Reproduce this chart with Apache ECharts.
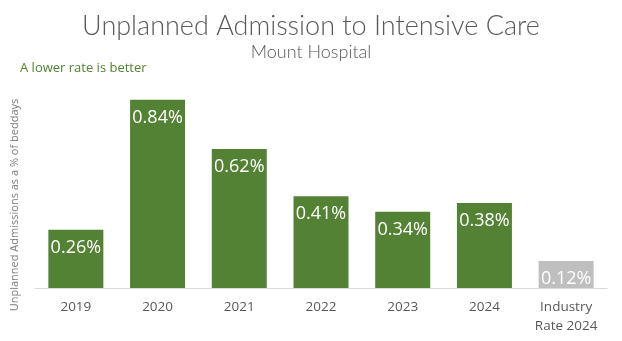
<!DOCTYPE html>
<html><head><meta charset="utf-8">
<script src="https://cdn.jsdelivr.net/npm/echarts@6/dist/echarts.min.js"></script>
<style>html,body{margin:0;padding:0;background:#fff}#c{width:622px;height:341px}</style>
</head><body><div id="c"></div>
<script>
const categories = ['2019','2020','2021','2022','2023','2024','Industry\nRate 2024'];
const values = [0.26, 0.84, 0.62, 0.41, 0.34, 0.38, 0.12];
const colors = ['#548235','#548235','#548235','#548235','#548235','#548235','#bfbfbf'];
const yAxisTitle = 'Unplanned Admissions as a % of beddays';

const chart = echarts.init(document.getElementById('c'));
chart.setOption({
  animation: false,
  backgroundColor: '#fff',
  title: [
    {text: 'Unplanned Admission to Intensive Care', left: 'center', top: 8,
     textStyle: {fontFamily: 'Lato', fontWeight: 300, fontSize: 27, color: '#595959'}},
    {text: 'Mount Hospital', left: 'center', top: 38,
     textStyle: {fontFamily: 'Lato', fontWeight: 300, fontSize: 18, color: '#595959'}},
    {text: 'A lower rate is better', left: 15, top: 57,
     textStyle: {fontFamily: 'Open Sans', fontWeight: 'normal', fontSize: 13, color: '#548235'}}
  ],
  graphic: [{
    type: 'text', x: 9, y: 205, rotation: Math.PI / 2,
    style: {text: yAxisTitle, fill: '#7f7f7f', fontSize: 11, fontFamily: 'Open Sans',
      align: 'center', verticalAlign: 'top'}
  }],
  grid: {left: 35, right: 15, top: 64, bottom: 53},
  xAxis: {
    type: 'category', data: categories,
    axisLine: {lineStyle: {color: '#d9d9d9'}},
    axisTick: {show: false},
    axisLabel: {color: '#595959', fontSize: 13.5, fontFamily: 'Open Sans', margin: 10, lineHeight: 19}
  },
  yAxis: {
    type: 'value', min: 0, max: 1,
    axisLine: {show: false}, axisTick: {show: false}, axisLabel: {show: false},
    splitLine: {show: false}
  },
  series: [{
    type: 'bar', barWidth: 55,
    data: values.map((v, i) => ({value: v, itemStyle: {color: colors[i]}})),
    label: {show: true, position: 'insideTop', distance: 9, color: '#fff', fontSize: 18,
      fontFamily: 'Open Sans', formatter: p => p.value.toFixed(2) + '%'}
  }]
});
</script></body></html>
